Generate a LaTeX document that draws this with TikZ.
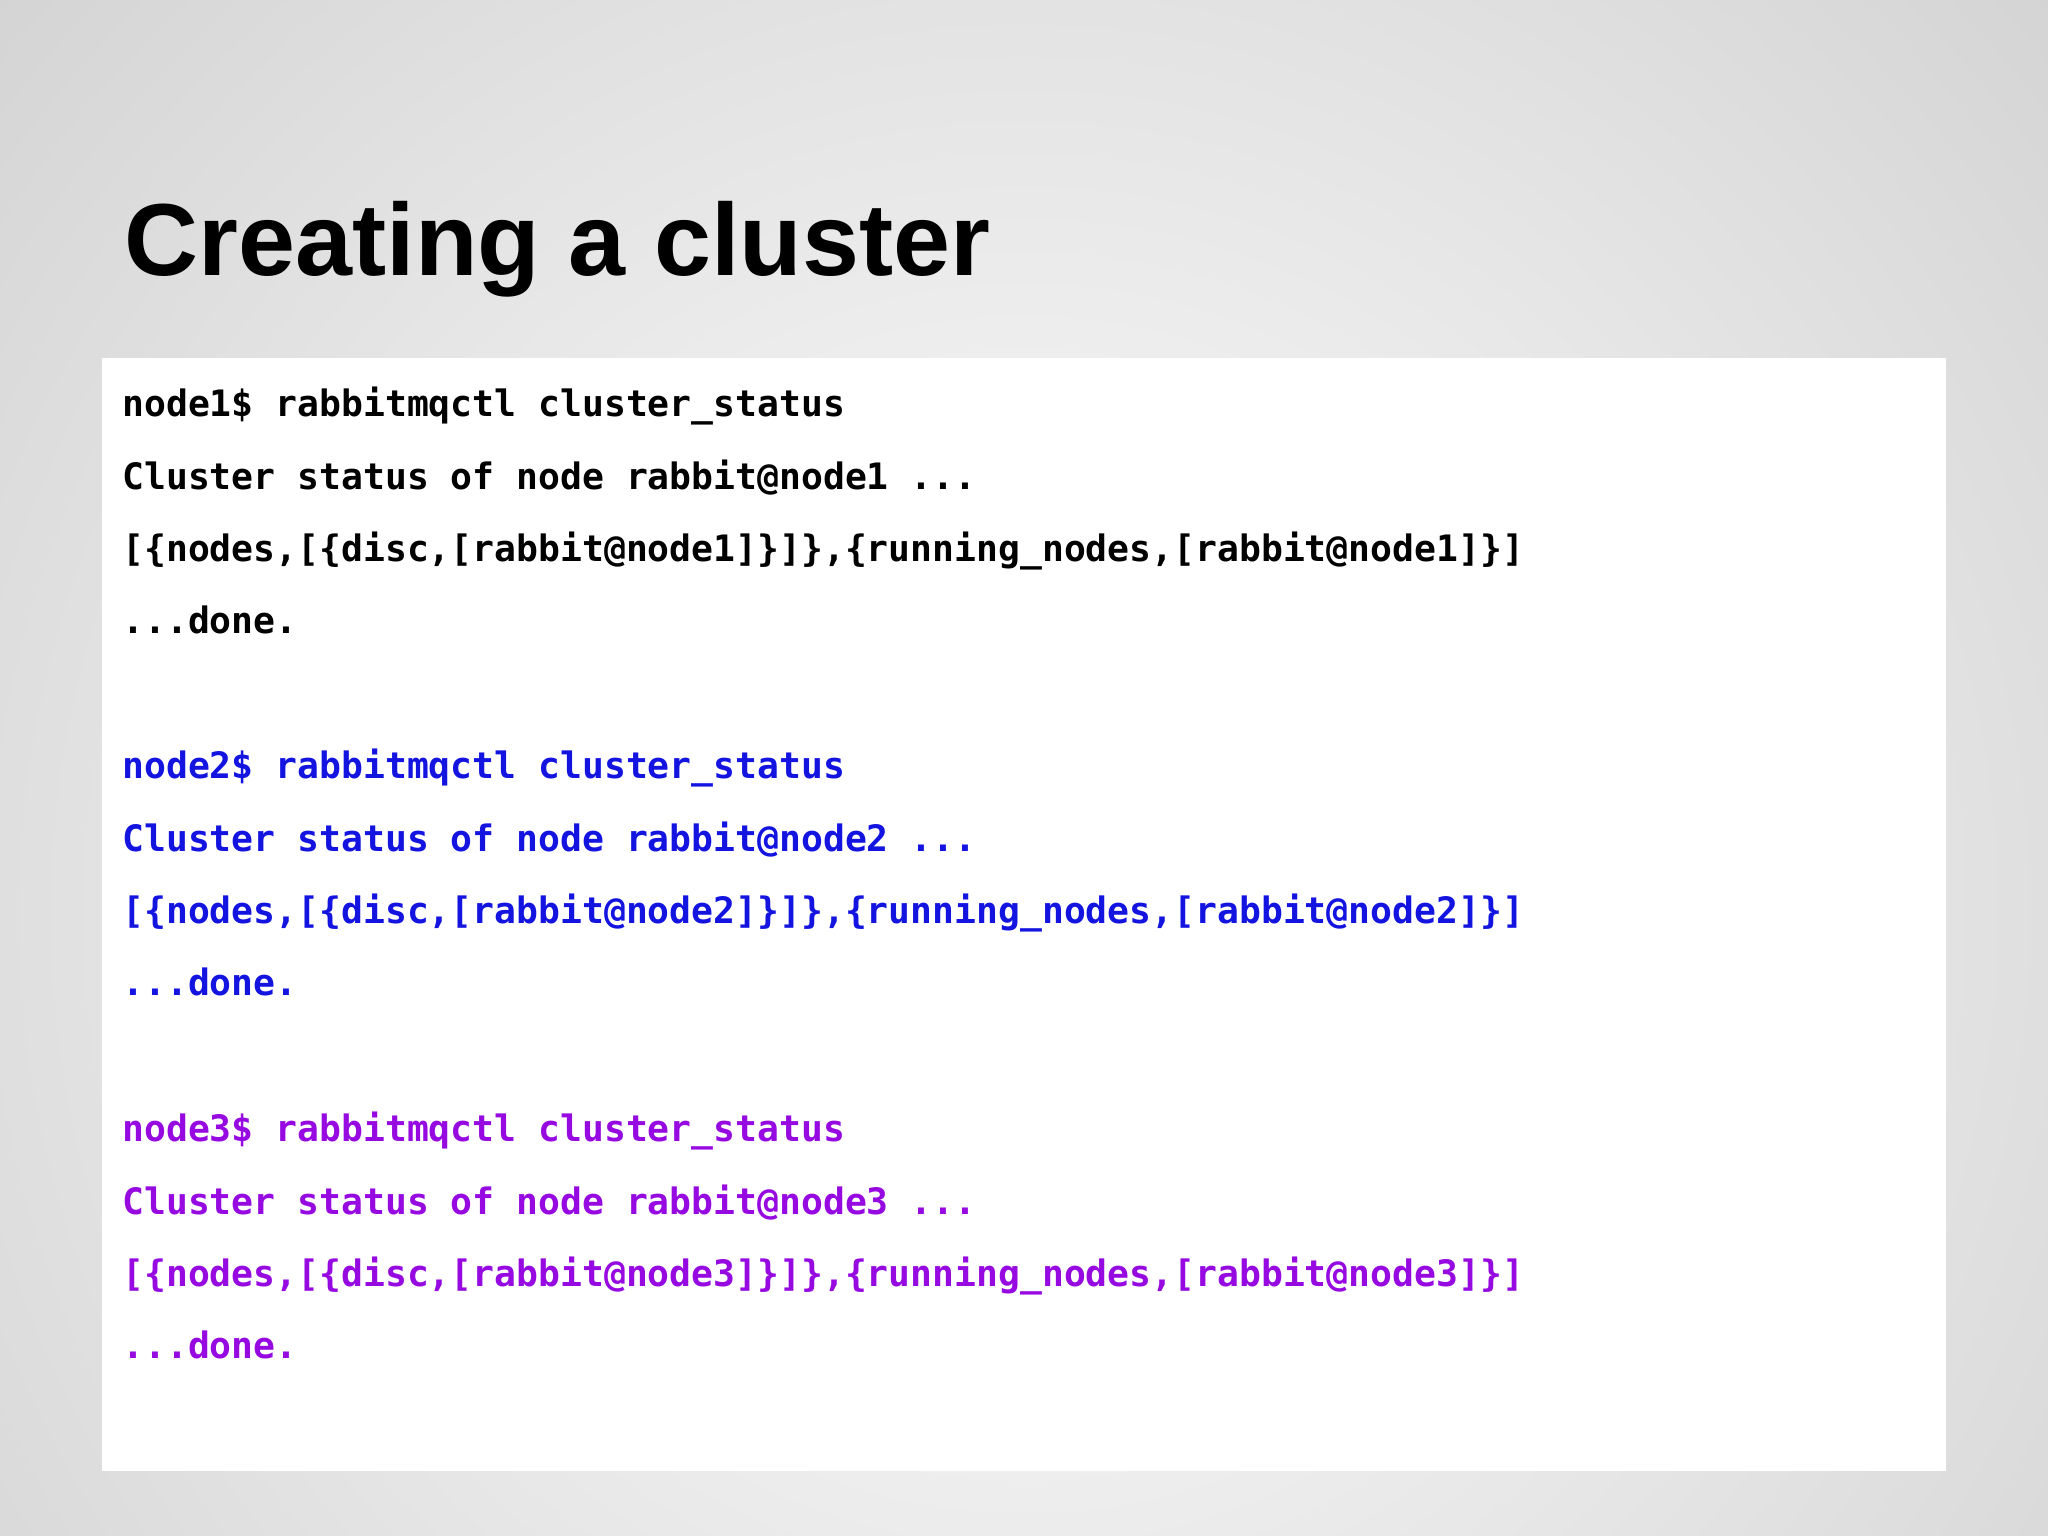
\documentclass[tikz,border=0pt]{standalone}
\usepackage{fontspec}
\setmainfont{Liberation Sans}
\newfontfamily\codefont{DejaVu Sans Mono}
\definecolor{cblue}{RGB}{20,20,225}
\definecolor{cpurple}{RGB}{150,10,225}
\begin{document}
\begin{tikzpicture}[x=0.01cm,y=-0.01cm,
  code/.style={anchor=base west,inner sep=0pt,font=\codefont\bfseries\fontsize{7.92pt}{9pt}\selectfont}]
\useasboundingbox (0,0) rectangle (1568,1176);
\shade[inner color=white,outer color=gray!38] (-400,-500) rectangle (1968,1900);
\fill[white] (78,274) rectangle (1490,1126);
\node[anchor=base west,inner sep=0pt,font=\bfseries\fontsize{22.3pt}{24pt}\selectfont] (title) at (95,211) {Creating a cluster};
\node[code] (a1) at (93,319) {node1\$ rabbitmqctl cluster\_status};
\node[code] (a2) at (93,375) {Cluster status of node rabbit@node1 ...};
\node[code] (a3) at (93,430) {[\{nodes,[\{disc,[rabbit@node1]\}]\},\{running\_nodes,[rabbit@node1]\}]};
\node[code] (a4) at (93,485) {...done.};
\node[code,text=cblue] (b1) at (93,596) {node2\$ rabbitmqctl cluster\_status};
\node[code,text=cblue] (b2) at (93,652) {Cluster status of node rabbit@node2 ...};
\node[code,text=cblue] (b3) at (93,707) {[\{nodes,[\{disc,[rabbit@node2]\}]\},\{running\_nodes,[rabbit@node2]\}]};
\node[code,text=cblue] (b4) at (93,762) {...done.};
\node[code,text=cpurple] (c1) at (93,874) {node3\$ rabbitmqctl cluster\_status};
\node[code,text=cpurple] (c2) at (93,930) {Cluster status of node rabbit@node3 ...};
\node[code,text=cpurple] (c3) at (93,985) {[\{nodes,[\{disc,[rabbit@node3]\}]\},\{running\_nodes,[rabbit@node3]\}]};
\node[code,text=cpurple] (c4) at (93,1040) {...done.};
\end{tikzpicture}
\end{document}
